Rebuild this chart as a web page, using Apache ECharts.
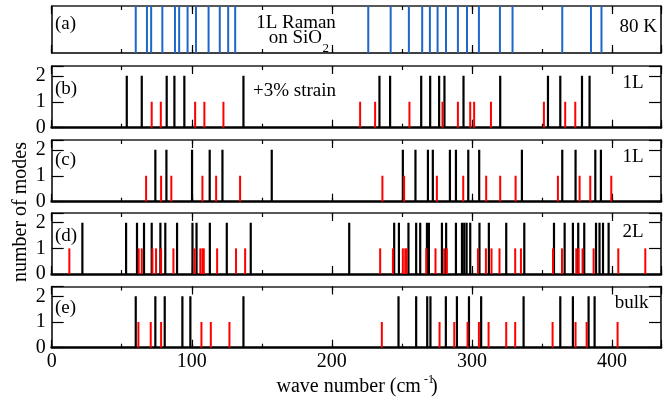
<!DOCTYPE html>
<html><head><meta charset="utf-8">
<script src="https://cdn.jsdelivr.net/npm/echarts@6/dist/echarts.min.js"></script>
<style>html,body{margin:0;padding:0;background:#fff}#c{width:669px;height:403px}</style>
</head><body><div id="c"></div>
<script>
// ---- data ----
const xMin = 0, xMax = 435;
const xTickLabels = [0, 100, 200, 300, 400];
const yTickLabels = [0, 1, 2];
const countBlack = 2, countRed = 1, countRaman = 1;
// (a) 1L Raman on SiO2, 80 K
const ramanA = [60, 68, 71, 79, 88, 91, 97, 103, 112, 120, 126, 131, 226, 242, 255, 264.5, 270, 275.5, 281.5, 290, 296.5, 305, 320, 329, 364.5, 385, 392.5];
// (b) 1L +3% strain
const bBlack = [53.6, 64.3, 82.1, 87.6, 94.7, 136.9, 234, 241.6, 263.8, 270.2, 276.6, 280.4, 294, 320.2, 354.3, 363.1, 378.6, 384];
const bRed = [71.4, 77.9, 102.4, 109, 122.6, 220.2, 230.9, 255.4, 279, 290, 298.8, 301.6, 313.6, 351.4, 366.6, 373.8];
// (c) 1L
const cBlack = [74, 81.9, 100.2, 112.8, 121.9, 157.1, 250.7, 259.7, 268.6, 272.1, 284.3, 288.6, 297.4, 305.2, 335.7, 364.5, 374, 388.1, 392.1];
const cRed = [67.4, 78.1, 85.4, 107.6, 117.4, 134.5, 236.1, 251.6, 275, 293.8, 310.2, 320.2, 331.2, 361.4, 376.9, 384.5, 399.5];
// (d) 2L
const dBlack = [21.9, 53.1, 60.9, 65.9, 71.4, 77.6, 81.1, 89.5, 100.5, 103.4, 112.9, 125, 142.1, 212.4, 244.5, 247.9, 254.7, 260.2, 263.1, 267.9, 269.3, 278.6, 281.6, 288.6, 292.9, 294.5, 296.2, 298.8, 305.4, 312.1, 324.5, 337.4, 358.6, 366.2, 372.1, 375.9, 380.2, 388.6, 391.1, 393.6, 397.6];
const dRed = [12.6, 62.1, 64.3, 71.9, 74.5, 78.1, 86.9, 101.9, 106.1, 107.6, 108.6, 118.1, 131.6, 138.1, 234.5, 243.6, 250.7, 252.4, 253.3, 267.4, 274, 280.2, 282.1, 304.3, 310, 314, 319.7, 330.9, 335, 357.9, 364.3, 374.5, 376.1, 379, 386.9, 404.5, 423.8];
// (e) bulk
const eBlack = [60, 74, 80.7, 93.3, 99, 136.9, 247.6, 260.2, 268.1, 270.4, 281.4, 289.3, 297.9, 306.6, 336.9, 363.1, 372.1, 383.3, 387.6];
const eRed = [61.9, 70.7, 78.1, 106.9, 113.6, 126.9, 235.7, 276.9, 287.4, 296.9, 305, 311.9, 324.5, 330.9, 357.6, 374, 381.9, 404];

// ---- layout ----
const FONT = 'Liberation Serif';
const gridBoxes = [
  {top: 6, height: 47},
  {top: 66, height: 61.7},
  {top: 140, height: 61.7},
  {top: 213, height: 61},
  {top: 286.5, height: 61.2}
];
const panels = [
  [{pos: ramanA, count: countRaman, color: '#1f66c9', w: 2}],
  [{pos: bBlack, count: countBlack, color: '#000', w: 2.2}, {pos: bRed, count: countRed, color: '#ff0000', w: 2}],
  [{pos: cBlack, count: countBlack, color: '#000', w: 2.2}, {pos: cRed, count: countRed, color: '#ff0000', w: 2}],
  [{pos: dBlack, count: countBlack, color: '#000', w: 2.2}, {pos: dRed, count: countRed, color: '#ff0000', w: 2}],
  [{pos: eBlack, count: countBlack, color: '#000', w: 2.2}, {pos: eRed, count: countRed, color: '#ff0000', w: 2}]
];

const grid = [], xAxis = [], yAxis = [], series = [];
gridBoxes.forEach((g, i) => {
  grid.push({left: 51.7, right: 8, top: g.top, height: g.height});
  const last = i === gridBoxes.length - 1;
  const base = {type: 'value', gridIndex: i, min: xMin, max: xMax, splitLine: {show: false}};
  // bottom major
  xAxis.push(Object.assign({}, base, {
    position: 'bottom', interval: 100,
    axisLine: {show: true, onZero: false, lineStyle: {color: '#000', width: i === 0 ? 1.5 : 2.6}},
    axisTick: {show: true, inside: true, length: 8, lineStyle: {color: '#000', width: 1.2}},
    axisLabel: {show: last, margin: 4, color: '#000', fontFamily: FONT, fontSize: 20,
      formatter: v => xTickLabels.includes(v) ? String(v) : ''}
  }));
  // bottom minor
  xAxis.push(Object.assign({}, base, {
    position: 'bottom', interval: 50,
    axisLine: {show: false, onZero: false},
    axisTick: {show: true, inside: true, length: 4, lineStyle: {color: '#000', width: 1.2}},
    axisLabel: {show: false}
  }));
  // top major
  xAxis.push(Object.assign({}, base, {
    position: 'top', interval: 100,
    axisLine: {show: true, onZero: false, lineStyle: {color: '#222', width: 1.5}},
    axisTick: {show: true, inside: true, length: 8, lineStyle: {color: '#000', width: 1.2}},
    axisLabel: {show: false}
  }));
  // top minor
  xAxis.push(Object.assign({}, base, {
    position: 'top', interval: 50,
    axisLine: {show: false, onZero: false},
    axisTick: {show: true, inside: true, length: 4, lineStyle: {color: '#000', width: 1.2}},
    axisLabel: {show: false}
  }));
  const isA = i === 0;
  const ybase = {type: 'value', gridIndex: i, min: 0, max: isA ? 1 : 2.38, interval: 1, splitLine: {show: false}};
  yAxis.push(Object.assign({}, ybase, {
    position: 'left',
    axisLine: {show: true, onZero: false, lineStyle: {color: '#000', width: 1.5}},
    axisTick: {show: !isA, inside: true, length: 12, lineStyle: {color: '#000', width: 1.2}},
    axisLabel: {show: !isA, margin: 6, color: '#000', fontFamily: FONT, fontSize: 20,
      formatter: v => yTickLabels.includes(v) ? String(v) : ''}
  }));
  yAxis.push(Object.assign({}, ybase, {
    position: 'right',
    axisLine: {show: true, onZero: false, lineStyle: {color: '#000', width: 1.5}},
    axisTick: {show: !isA, inside: true, length: 12, lineStyle: {color: '#000', width: 1.2}},
    axisLabel: {show: false}
  }));
  panels[i].forEach(s => {
    series.push({
      type: 'custom', xAxisIndex: i * 4, yAxisIndex: i * 2, clip: true, z: 3,
      encode: {x: 0, y: 1},
      data: s.pos.map(p => [p, s.count]),
      renderItem: (params, api) => {
        const x = api.value(0), y = api.value(1);
        const p0 = api.coord([x, 0]);
        const p1 = api.coord([x, y]);
        return {type: 'rect', shape: {x: p0[0] - s.w / 2, y: p1[1], width: s.w, height: p0[1] - p1[1]},
          style: {fill: s.color}};
      }
    });
  });
});

function txt(text, x, y, align, size) {
  return {type: 'text', z: 10, style: {text: text, x: x, y: y, textAlign: align || 'left', textVerticalAlign: 'middle',
    font: (size || 19) + 'px "' + FONT + '"', fill: '#000'}};
}
const graphic = [
  txt('(a)', 55, 24),
  txt('1L Raman', 296, 22.7, 'center'),
  txt('on SiO', 322, 38.5, 'right'),
  txt('2', 322.5, 49, 'left', 13),
  txt('80 K', 657, 26.7, 'right'),
  txt('(b)', 55, 89),
  txt('+3% strain', 253, 91),
  txt('1L', 643.5, 83, 'right'),
  txt('(c)', 55, 160),
  txt('1L', 643.5, 157, 'right'),
  txt('(d)', 55, 236),
  txt('2L', 643.5, 231.7, 'right'),
  txt('(e)', 55, 308),
  txt('bulk', 648.5, 303.3, 'right'),
  txt('wave number (cm', 276.5, 387, 'left', 20),
  txt('-1', 424, 380, 'left', 12),
  txt(')', 431, 387, 'left', 20),
  {type: 'text', z: 10, x: 21, y: 212, rotation: Math.PI / 2,
    style: {text: 'number of modes', x: 0, y: 0, textAlign: 'center', textVerticalAlign: 'middle', font: '20px "' + FONT + '"', fill: '#000'}}
];

const chart = echarts.init(document.getElementById('c'), null, {renderer: 'canvas'});
chart.setOption({animation: false, backgroundColor: '#fff', grid, xAxis, yAxis, series, graphic});
</script></body></html>
